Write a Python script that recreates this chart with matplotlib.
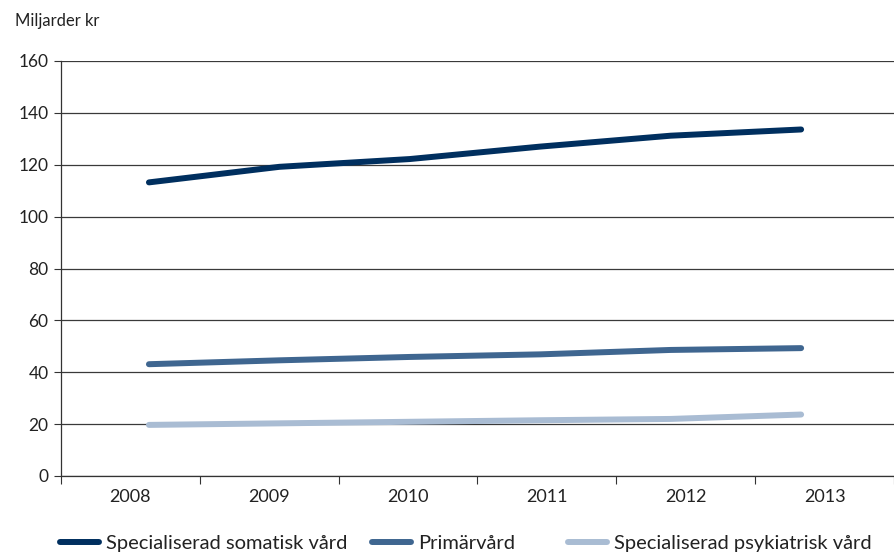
import matplotlib
matplotlib.use('Agg')
import matplotlib.pyplot as plt
import numpy as np

years = [2008, 2009, 2010, 2011, 2012, 2013]
somatisk = [113.2, 119.2, 122.2, 127.0, 131.2, 133.6]
primar = [43.1, 44.6, 45.9, 46.9, 48.6, 49.3]
psykiatrisk = [19.7, 20.3, 20.9, 21.5, 22.0, 23.7]
labels = ['Specialiserad somatisk vård', 'Primärvård', 'Specialiserad psykiatrisk vård']
colors = ['#002f5f', '#3f6690', '#a9bcd3']

fig = plt.figure(figsize=(8.94, 5.52), dpi=100)
ax = fig.add_axes([61/894, 76/552, 1 - 61/894, 415/552])

lines = []
for vals, lab, c in zip([somatisk, primar, psykiatrisk], labels, colors):
    ln, = ax.plot(years, vals, color=c, lw=4.3, solid_capstyle='round', label=lab, zorder=3)
    lines.append(ln)

# category layout (line points sit a bit off the category centres, as in the original)
cat_w = 140.5 / 132
x0 = years[0] - 89 / 132
ax.set_xlim(x0, years[0] + 744 / 132)
ax.set_ylim(0, 160)

bounds = [x0 + k * cat_w for k in range(7)]
centres = [x0 + (k + 0.5) * cat_w for k in range(6)]
ax.set_xticks(bounds)
ax.set_xticklabels([])
ax.set_xticks(centres, minor=True)
ax.set_xticklabels([str(y) for y in years], minor=True, family='Lato', fontsize=13, color='#222222')
ax.tick_params(axis='x', which='major', length=6, width=0.8, color='#333333', direction='out')
ax.tick_params(axis='x', which='minor', length=0, pad=9)

ax.set_yticks(np.arange(0, 161, 20))
ax.set_yticklabels([str(v) for v in range(0, 161, 20)], family='Lato', fontsize=12.5, color='#222222')
ax.tick_params(axis='y', length=5, width=0.8, color='#333333', pad=4)
ax.yaxis.grid(True, color='#3a3a3a', lw=0.9)
ax.set_axisbelow(True)

for s in ['top', 'right']:
    ax.spines[s].set_visible(False)
ax.spines['left'].set_color('#333333')
ax.spines['bottom'].set_color('#333333')
ax.spines['left'].set_linewidth(0.9)
ax.spines['bottom'].set_linewidth(0.9)

fig.text(15/894, 1 - 21/552, 'Miljarder kr', family='Lato', fontsize=12, va='center', ha='left', color='#222222')

# legend entries placed one by one, like the original
for ln, lab, xpx in zip(lines, labels, [60, 372, 568]):
    leg = fig.legend([ln], [lab], loc='center left', bbox_to_anchor=(xpx/894, 9/552), frameon=False,
                     prop={'family': 'Lato', 'size': 14.5}, handlelength=1.95, handletextpad=0.35,
                     borderaxespad=0, borderpad=0)
    for t in leg.get_texts():
        t.set_color('#222222')

plt.savefig('out.png', dpi=100)
